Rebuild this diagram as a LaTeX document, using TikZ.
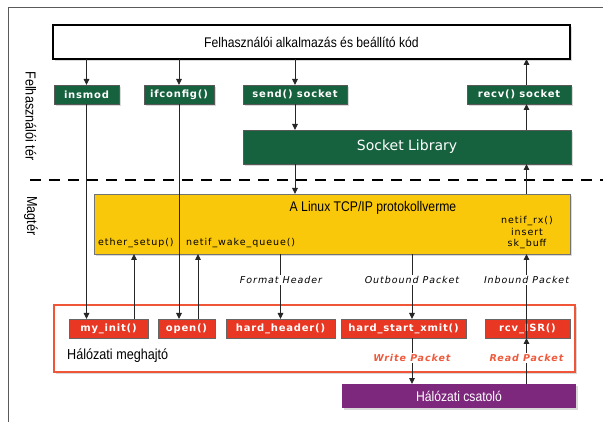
\documentclass[tikz,border=0pt]{standalone}
\usepackage{fontspec}
\setmainfont{DejaVu Sans}
\newfontfamily\condfont{Liberation Sans}[FakeStretch=0.87]
\newfontfamily\trackfont{DejaVu Sans}[LetterSpace=10]
\newfontfamily\boxfont{DejaVu Sans}[LetterSpace=8]
\usetikzlibrary{shadows,arrows.meta}

\definecolor{boxgreen}{RGB}{22,98,62}
\definecolor{stackyellow}{RGB}{250,200,10}
\definecolor{drvred}{RGB}{232,56,36}
\definecolor{drvframe}{RGB}{240,85,55}
\definecolor{pktorange}{RGB}{240,90,60}
\definecolor{nicpurple}{RGB}{125,40,125}
\definecolor{framegray}{RGB}{90,90,90}

\begin{document}
\begin{tikzpicture}[x=1pt,y=-1pt,
  shade box/.style={drop shadow={shadow xshift=2pt,shadow yshift=-2pt,opacity=0.3,fill=black!50}},
  anybox/.style={inner sep=0pt,outer sep=0pt},
  appbox/.style={anybox,draw=black,line width=1.3pt,fill=white,shade box,
    font=\condfont\fontsize{14}{16}\selectfont},
  greenbox/.style={anybox,draw=black!65,line width=0.5pt,fill=boxgreen,text=white,shade box,
    minimum height=19pt,font=\boxfont\bfseries\fontsize{10}{11}\selectfont},
  libbox/.style={anybox,draw=black!65,line width=0.5pt,fill=boxgreen,text=white,shade box,
    font=\fontsize{14}{16}\selectfont},
  stackbox/.style={anybox,draw=black!55,line width=0.7pt,fill=stackyellow,shade box},
  drvbox/.style={anybox,draw=drvframe,line width=1.5pt,fill=white,shade box},
  redbox/.style={anybox,draw=black!60,line width=0.5pt,fill=drvred,text=white,
    minimum height=19pt,font=\boxfont\bfseries\fontsize{10}{11}\selectfont},
  nicbox/.style={anybox,fill=nicpurple,text=white,shade box,
    font=\condfont\fontsize{14}{16}\selectfont},
  small/.style={inner sep=0pt,font=\trackfont\fontsize{9.5}{11.5}\selectfont},
  flowlabel/.style={fill=white,inner sep=1.5pt,font=\trackfont\itshape\fontsize{9.5}{10}\selectfont},
  pktlabel/.style={fill=white,inner sep=1.5pt,text=pktorange,
    font=\trackfont\bfseries\itshape\fontsize{9.5}{10}\selectfont},
  sidelabel/.style={rotate=-90,font=\condfont\fontsize{14.5}{16}\selectfont},
  conn/.style={draw=black!85,line width=0.9pt},
  arr/.style={conn,-{Triangle[length=6pt,width=5.5pt]}}
]
\useasboundingbox (0,0) rectangle (603,422);

% outer frame
\draw[framegray,line width=1pt] (8,422) -- (8,8) -- (603,8);

% user space / kernel space separator
\draw[line width=2.5pt,dash pattern=on 11pt off 8pt] (30,180) -- (603,180);
\node[sidelabel] (userlbl) at (31,116) {Felhasználói tér};
\node[sidelabel] (kernlbl) at (31,216) {Magtér};

% column positions of the vertical connectors
\coordinate (colmyinit) at (134,0);
\coordinate (colopen) at (198,0);
\coordinate (colout) at (412,0);
\coordinate (colin) at (526.5,0);

% application layer
\node[appbox,minimum width=517pt,minimum height=34pt] (app) at (311.5,42)
  {Felhasználói alkalmazás és beállító kód};
\node[greenbox,minimum width=65pt] (insmod) at (86.5,94.5) {insmod};
\node[greenbox,minimum width=70pt] (ifconfig) at (179,94.5) {ifconfig()};
\node[greenbox,minimum width=104pt] (send) at (295,94.5) {send() socket};
\node[greenbox,minimum width=104pt] (recv) at (519,94.5) {recv() socket};
\node[libbox,minimum width=328pt,minimum height=34pt] (lib) at (407,147) {Socket Library};

% protocol stack
\node[stackbox,minimum width=476pt,minimum height=60pt] (stack) at (332,224) {};
\node[font=\condfont\fontsize{14}{16}\selectfont,inner sep=0pt] (stacktitle) at (373,208)
  {A Linux TCP/IP protokollverme};
\node[small,anchor=west] (ethsetup) at (98,243) {ether\_setup()};
\node[small,anchor=west] (wakeq) at (186,243) {netif\_wake\_queue()};
\node[small,align=center] (netifrx) at (527,233) {netif\_rx()\\insert\\sk\_buff};

% network driver
\node[drvbox,minimum width=521pt,minimum height=67pt] (driver) at (314.5,338.5) {};
\node[redbox,minimum width=79pt] (myinit) at (108.5,328.5) {my\_init()};
\node[redbox,minimum width=57pt] (open) at (186.5,328.5) {open()};
\node[redbox,minimum width=109pt] (hardheader) at (280.5,328.5) {hard\_header()};
\node[redbox,minimum width=125pt] (xmit) at (403.5,328.5) {hard\_start\_xmit()};
\node[redbox,minimum width=85pt] (rcvisr) at (527.5,328.5) {rcv\_ISR()};
\node[anchor=west,inner sep=0pt,font=\condfont\fontsize{14.5}{16}\selectfont] (drvname) at (67,356)
  {Hálózati meghajtó};

% network interface
\node[nicbox,minimum width=234pt,minimum height=24pt] (nic) at (459,396) {Hálózati csatoló};

% user space connectors
\draw[arr] (app.south -| insmod.north) -- (insmod.north);
\draw[arr] (app.south -| ifconfig.north) -- (ifconfig.north);
\draw[arr] (app.south -| send.north) -- (send.north);
\draw[arr] (recv.north -| colin) -- (app.south -| colin);
\draw[arr] (send.south) -- (send.south |- lib.north);
\draw[arr] (lib.north -| colin) -- (recv.south -| colin);
\draw[arr] (lib.south -| send.south) -- (stack.north -| send.south);
\draw[arr] (stack.north -| colin) -- (lib.south -| colin);

% configuration path
\draw[arr] (insmod.south) -- (insmod.south |- myinit.north);
\draw[arr] (ifconfig.south) -- (ifconfig.south |- open.north);
\draw[arr] (myinit.north -| colmyinit) -- (stack.south -| colmyinit);
\draw[arr] (open.north -| colopen) -- (stack.south -| colopen);

% data path
\draw[arr] (stack.south -| hardheader.north) -- (hardheader.north);
\draw[arr] (stack.south -| colout) -- (xmit.north -| colout);
\draw[arr] (rcvisr.south -| colin) -- (stack.south -| colin);
\draw[arr] (xmit.south -| colout) -- (nic.north -| colout);
\draw[arr] (nic.north -| colin) -- (rcvisr.south -| colin);

\node[flowlabel] (fmthdr) at (281,280) {Format Header};
\node[flowlabel] (outpkt) at (412,280) {Outbound Packet};
\node[flowlabel] (inpkt) at (526.5,280) {Inbound Packet};
\node[pktlabel] (wrpkt) at (412,358) {Write Packet};
\node[pktlabel] (rdpkt) at (526.5,358) {Read Packet};
\end{tikzpicture}
\end{document}
